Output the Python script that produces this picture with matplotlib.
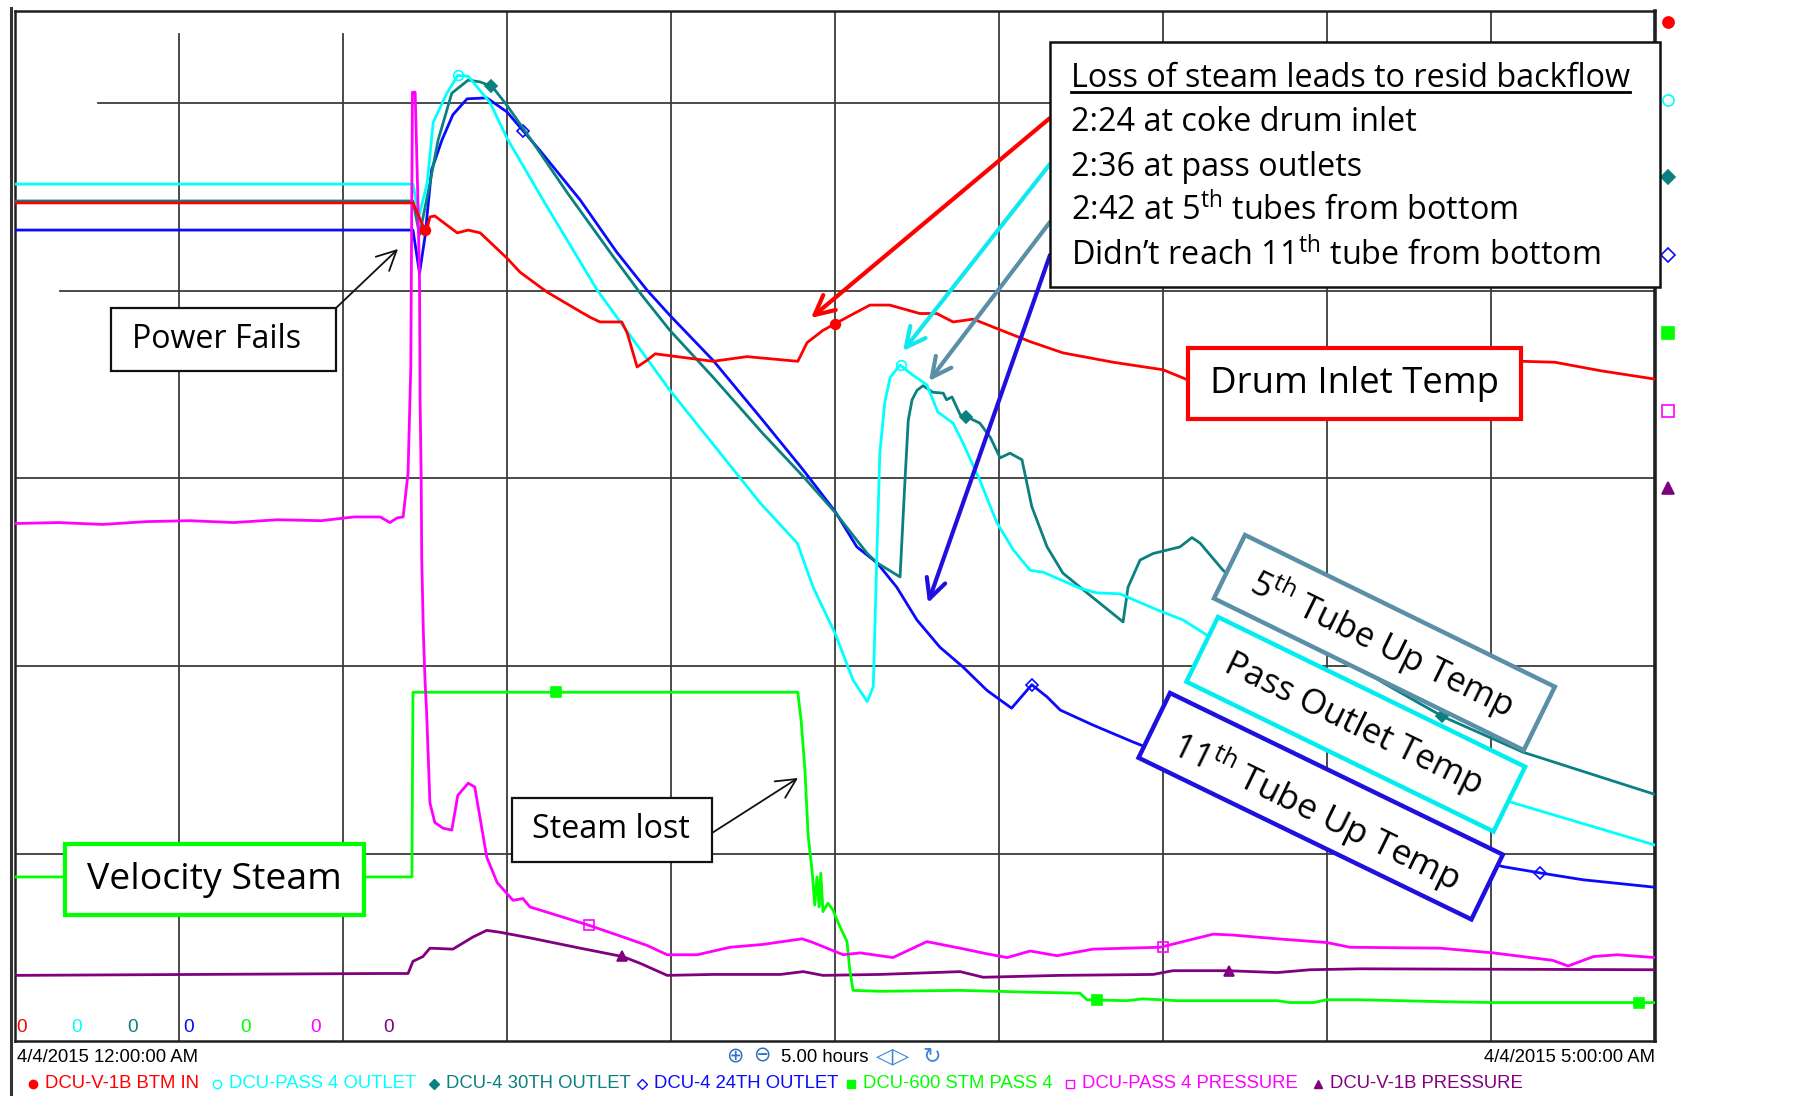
import matplotlib
matplotlib.use('Agg')
import matplotlib.pyplot as plt
import numpy as np
from matplotlib.patches import Rectangle
from matplotlib.transforms import Affine2D
from matplotlib.lines import Line2D

plt.rcParams['font.family'] = ['Open Sans', 'DejaVu Sans']
plt.rcParams['mathtext.fontset'] = 'custom'
plt.rcParams['mathtext.rm'] = 'Open Sans'
plt.rcParams['mathtext.it'] = 'Open Sans:italic'
plt.rcParams['mathtext.bf'] = 'Open Sans:bold'

# time in minutes after 12:00 AM, value in % of each trend's scale
red = [(0, 89.4), (72.8, 89.4), (75.2, 86.2), (75.9, 87.9), (76.8, 88.0), (80.9, 86.2), (82.9, 86.5),
       (85.1, 86.2), (90.0, 83.5), (92.4, 82.0), (97.3, 79.9), (103.4, 77.8), (105.2, 77.2), (107.0, 76.7),
       (111.0, 76.7), (112.0, 75.5), (113.8, 71.9), (115.6, 72.6), (117.1, 73.3), (127.7, 72.5),
       (133.9, 73.0), (143.2, 72.5), (144.9, 74.5), (147.8, 75.8), (150.0, 76.5), (152.2, 77.2),
       (156.4, 78.5), (160.0, 78.5), (165.5, 77.6), (168.6, 77.6), (171.6, 76.7), (175.3, 77.0),
       (179.6, 76.0), (185.7, 74.6), (191.7, 73.4), (200.9, 72.4), (210.0, 71.6), (214.6, 70.5),
       (245.0, 71.0), (270.0, 72.6), (281.7, 72.4), (290.0, 71.5), (300.0, 70.6)]
cyan = [(0, 91.4), (72.8, 91.4), (73.9, 88.0), (75.4, 91.5), (76.5, 98.0), (79.0, 101.1), (81.0, 103.0),
        (82.9, 102.9), (86.9, 100.1), (90.0, 96.3), (96.6, 89.7), (106.5, 80.1), (119.8, 69.4),
        (136.3, 57.4), (143.1, 53.1), (146.0, 48.4), (150.0, 43.5), (153.3, 38.5), (155.9, 36.2),
        (157.0, 37.8), (157.7, 52.7), (158.2, 62.7), (159.1, 68.1), (160.1, 70.8), (161.9, 72.1),
        (164.3, 71.0), (166.8, 70.0), (168.8, 67.1), (171.6, 65.9), (173.4, 63.8), (176.5, 59.8),
        (179.6, 55.3), (182.6, 52.4), (185.7, 50.2), (188.1, 50.0), (194.8, 48.3), (197.9, 47.8),
        (202.1, 47.7), (208.9, 46.0), (213.7, 44.9), (218.0, 43.3), (240.0, 36.0), (260.0, 29.6),
        (273.5, 25.5), (300.0, 20.9)]
teal = [(0, 89.6), (72.8, 89.6), (74.0, 86.0), (75.9, 91.5), (77.4, 96.1), (79.9, 101.1), (82.9, 102.5),
        (85.1, 102.3), (87.3, 101.8), (90.0, 99.8), (94.8, 95.8), (101.0, 90.5), (109.4, 83.7),
        (114.6, 79.6), (119.8, 75.8), (127.7, 70.8), (136.8, 64.8), (144.2, 60.2), (150.0, 56.4),
        (155.9, 52.0), (157.7, 51.0), (161.9, 49.5), (162.8, 59.8), (163.4, 66.2), (164.1, 68.4),
        (165.0, 69.4), (166.1, 69.9), (167.9, 69.2), (169.8, 69.1), (170.4, 68.4), (171.4, 68.7),
        (172.9, 66.8), (174.4, 66.5), (176.5, 65.9), (178.4, 64.4), (180.2, 62.2), (182.0, 62.7),
        (184.2, 62.0), (186.0, 57.0), (188.8, 52.7), (191.7, 49.9), (196.1, 47.8), (202.7, 44.7),
        (203.6, 48.4), (205.8, 51.3), (208.2, 52.0), (213.1, 52.7), (215.3, 53.7), (216.8, 53.1),
        (221.0, 50.2), (235.0, 44.0), (250.3, 38.2), (261.2, 34.6), (275.9, 30.8), (300.0, 26.3)]
blue = [(0, 86.5), (72.8, 86.5), (74.0, 81.9), (75.0, 85.8), (76.2, 92.9), (78.1, 96.1), (80.1, 98.8),
        (82.7, 100.5), (86.3, 100.6), (90.0, 99.1), (96.0, 95.0), (103.4, 89.7), (110.0, 84.2),
        (115.6, 80.1), (119.8, 77.4), (127.7, 72.6), (136.8, 66.2), (144.2, 60.9), (150.0, 56.5),
        (154.0, 52.7), (157.7, 51.0), (161.3, 48.4), (165.0, 44.9), (169.2, 42.0), (173.4, 39.9),
        (177.8, 37.4), (182.3, 35.5), (186.0, 38.0), (188.8, 36.7), (191.2, 35.3), (197.2, 33.7),
        (204.5, 31.9), (230.0, 26.0), (250.0, 22.0), (272.2, 18.6), (279.3, 17.9), (286.8, 17.2),
        (300.0, 16.4)]
green = [(0, 17.5), (72.6, 17.5), (72.8, 37.2), (143.2, 37.2), (143.8, 34.2), (144.5, 28.9), (145.1, 21.8),
         (145.8, 18.2), (146.3, 14.5), (146.7, 17.5), (147.1, 14.3), (147.4, 17.9), (147.8, 13.8),
         (148.7, 14.7), (149.6, 14.0), (150.9, 12.2), (152.2, 10.6), (152.7, 7.6), (153.3, 5.4),
         (158.2, 5.3), (172.9, 5.4), (186.2, 5.2), (194.8, 5.1), (196.1, 4.4), (203.4, 4.3), (206.3, 4.5),
         (212.6, 4.3), (230.9, 4.3), (233.2, 4.1), (237.5, 4.1), (240.0, 4.4), (246.0, 4.4), (260.7, 4.2),
         (270.4, 4.1), (300.0, 4.1)]
magenta = [(0, 55.2), (8, 55.3), (16, 55.1), (24, 55.4), (32, 55.5), (40, 55.3), (48, 55.6), (56, 55.5),
           (62, 55.9), (66.8, 55.9), (68.6, 55.3), (69.9, 55.8), (71.0, 55.9), (71.9, 60.6), (72.4, 71.9),
           (72.7, 101.2), (73.2, 101.2), (73.7, 89.7), (74.0, 80.9), (74.1, 68.4), (74.3, 60.2),
           (74.4, 51.6), (74.7, 43.5), (75.0, 38.5), (75.3, 35.0), (75.9, 25.4), (76.8, 23.3), (78.3, 22.7),
           (79.9, 22.5), (81.0, 26.2), (82.9, 27.5), (84.1, 27.1), (86.3, 19.6), (88.2, 16.9), (91.1, 15.0),
           (92.9, 15.2), (94.2, 14.3), (100.3, 13.2), (105.2, 12.3), (111.2, 11.1), (115.6, 10.2),
           (119.3, 9.2), (124.8, 9.2), (130.8, 10.0), (136.8, 10.3), (144.0, 10.9), (146.0, 10.5),
           (151.5, 9.2), (154.6, 9.4), (160.6, 8.9), (166.8, 10.6), (172.9, 9.9), (177.8, 9.3), (181.5, 8.9),
           (185.7, 9.6), (190.6, 9.1), (197.2, 9.8), (209.5, 10.0), (219.2, 11.4), (222.8, 11.3),
           (230.9, 10.9), (240.0, 10.5), (244.2, 10.0), (260.7, 9.9), (270.4, 9.4), (281.3, 8.6),
           (284.1, 8.0), (288.7, 9.0), (293.1, 9.2), (300.0, 8.9)]
purple = [(0, 7.0), (66.8, 7.2), (71.9, 7.2), (72.8, 8.5), (74.6, 9.0), (75.9, 9.9), (80.1, 9.8), (83.8, 11.1),
          (86.3, 11.8), (88.7, 11.6), (94.2, 11.0), (103.4, 9.9), (111.2, 9.0), (114.3, 8.3), (119.3, 7.0),
          (127.7, 7.1), (140.0, 7.1), (144.2, 7.4), (147.8, 7.0), (158.2, 7.1), (172.9, 7.4), (177.1, 6.8),
          (191.2, 7.0), (208.2, 7.1), (211.8, 7.5), (221.7, 7.5), (230.9, 7.3), (236.9, 7.6), (246.0, 7.7),
          (300.0, 7.6)]

# trend-point markers (minutes)
red_marks = [75, 150, 225]
cyan_marks = [81, 162, 243]
teal_marks = [87, 174, 261]
blue_marks = [93, 186, 279]
green_marks = [99, 198, 297]
magenta_marks = [105, 210]
purple_marks = [111, 222]

tag_names = ['DCU-V-1B BTM IN', 'DCU-PASS 4 OUTLET', 'DCU-4 30TH OUTLET', 'DCU-4 24TH OUTLET',
             'DCU-600 STM PASS 4', 'DCU-PASS 4 PRESSURE', 'DCU-V-1B PRESSURE']
note_lines = ['2:24 at coke drum inlet', '2:36 at pass outlets',
              '2:42 at 5$^{\\mathrm{th}}$ tubes from bottom', 'Didn\u2019t reach 11$^{\\mathrm{th}}$ tube from bottom']

RED, CYAN, TEAL, BLUE = '#ff0000', '#00ffff', '#0b8080', '#0a0aff'
GREEN, MAGENTA, PURPLE = '#00ff00', '#ff00ff', '#800080'
SLATE, BOXBLUE = '#5b8fa8', '#2010e0'

W, H = 1800, 1096
fig = plt.figure(figsize=(18, 10.96), dpi=100)
ax = fig.add_axes([15 / W, 1 - 1041 / H, 1640 / W, 1030 / H])
ax.set_xlim(0, 300)
ax.set_ylim(0, 1030 / 9.375)
ax.set_xticks([])
ax.set_yticks([])
for s in ax.spines.values():
    s.set_linewidth(1.8)
    s.set_color('#202020')
ax.spines['right'].set_linewidth(2.6)

# pixel transform (y down) for the decorations
px = Affine2D().scale(0.01, -0.01).translate(0, 10.96) + fig.dpi_scale_trans
renderer = fig.canvas.get_renderer()


def fit(txt, target):
    # scale the font so the text run is `target` pixels wide
    w = txt.get_window_extent(renderer).width
    txt.set_fontsize(txt.get_fontsize() * target / w)
    return txt


gc = '#3c3c3c'
for t in range(30, 300, 30):
    top = 107.4 if t <= 60 else 110
    ax.plot([t, t], [0, top], color=gc, lw=1.3, zorder=1)
for v in range(20, 101, 20):
    start = {100: 15.2, 80: 8.2}.get(v, 0)
    ax.plot([start, 300], [v, v], color=gc, lw=1.3, zorder=1)

series = [
    (purple, PURPLE, purple_marks, '^', True),
    (green, GREEN, green_marks, 's', True),
    (blue, BLUE, blue_marks, 'D', False),
    (teal, TEAL, teal_marks, 'D', True),
    (cyan, CYAN, cyan_marks, 'o', False),
    (magenta, MAGENTA, magenta_marks, 's', False),
    (red, RED, red_marks, 'o', True),
]
for i, (data, col, marks, mk, filled) in enumerate(series):
    t, v = zip(*data)
    ax.plot(t, v, color=col, lw=2.0, zorder=3 + i)
    mv = np.interp(marks, t, v)
    ax.plot(marks, mv, ls='none', marker=mk, ms=7 if mk != 'D' else 6,
            mfc=col if filled else 'none', mec=col, mew=1.2, zorder=3 + i)


def box(x0, y0, x1, y1, ec, lw):
    fig.add_artist(Rectangle((x0, y0), x1 - x0, y1 - y0, fc='white', ec=ec, lw=lw,
                             transform=px, zorder=20))


def rbox(x, y, w, h, ang, ec, label, cx, cy, tw):
    fig.add_artist(Rectangle((x, y), w, h, angle=ang, fc='white', ec=ec, lw=3.2,
                             transform=px, zorder=20))
    txt = fig.text(cx, cy, label, transform=px, rotation_mode='anchor',
                   ha='center', va='center', fontsize=25, zorder=21)
    fit(txt, tw)
    txt.set_rotation(-ang)


def arrow(x0, y0, x1, y1, col, lw):
    ax.annotate('', xy=(x1, y1), xytext=(x0, y0), xycoords=px, textcoords=px,
                annotation_clip=False, zorder=22,
                arrowprops=dict(arrowstyle='->,head_length=0.7,head_width=0.35', color=col,
                                lw=lw, mutation_scale=20, shrinkA=0, shrinkB=0))


# note box with arrows
box(1050, 42, 1660, 287, '#111111', 1.8)
title = fig.text(1071, 86.7, 'Loss of steam leads to resid backflow', transform=px,
                 fontsize=21, va='baseline', zorder=21)
fit(title, 559)
note_fs = title.get_fontsize()
for k, line in enumerate(note_lines):
    fig.text(1071, 131.4 + 44.7 * k, line, transform=px, fontsize=note_fs, va='baseline', zorder=21)
arrow(1050, 118, 811, 318, RED, 3.0)
arrow(1050, 164, 903, 351, '#10e8f0', 3.0)
arrow(1050, 222, 929, 381, SLATE, 3.0)
arrow(1050, 255, 928, 603, BOXBLUE, 3.0)

box(111, 308, 336, 371, '#111111', 1.6)
fit(fig.text(217, 340, 'Power Fails', transform=px, fontsize=21, ha='center', va='center', zorder=21), 169)
arrow(336, 308, 398, 249, '#111111', 1.3)

box(512, 798, 712, 862, '#111111', 1.6)
fit(fig.text(611, 830, 'Steam lost', transform=px, fontsize=21, ha='center', va='center', zorder=21), 158)
arrow(712, 833, 798, 778, '#111111', 1.3)

box(65, 844, 364, 915, GREEN, 3.0)
fit(fig.text(214, 880, 'Velocity Steam', transform=px, fontsize=25, ha='center', va='center', zorder=21), 255)

box(1188, 348, 1521, 419, RED, 3.0)
fit(fig.text(1354, 384, 'Drum Inlet Temp', transform=px, fontsize=25, ha='center', va='center', zorder=21), 289)

rbox(1245, 535, 345, 70.6, 26.1, SLATE, '5$^{\\mathrm{th}}$ Tube Up Temp', 1382, 644, 289)
rbox(1218, 617, 341.7, 72, 26.0, '#00eef0', 'Pass Outlet Temp', 1354, 725, 283)
rbox(1170, 693, 370, 72, 25.9, BOXBLUE, '11$^{\\mathrm{th}}$ Tube Up Temp', 1316, 812, 316)

# outer left border line
fig.add_artist(Line2D([11, 11], [8, 1096], transform=px, color='#333333', lw=2.2))

# right-side pen markers
pen_cols = [RED, CYAN, TEAL, BLUE, GREEN, MAGENTA, PURPLE]
pen_mk = ['o', 'o', 'D', 'D', 's', 's', '^']
pen_fill = [True, False, True, False, True, False, True]
for k in range(7):
    fig.add_artist(Line2D([1668], [22 + 77.7 * k], transform=px, ls='none', marker=pen_mk[k],
                          ms=8 if pen_mk[k] != 'D' else 7, mfc=pen_cols[k] if pen_fill[k] else 'none',
                          mec=pen_cols[k], mew=1.2))

narrow = ['Liberation Sans Narrow', 'Liberation Sans']
nfs = 13.3
zero_x = [22, 77, 133, 189, 246, 316, 389]
for k in range(7):
    fig.text(zero_x[k], 1027, '0', transform=px, color=pen_cols[k], fontsize=nfs + 0.5, family=narrow,
             ha='center', va='center', zorder=21)

fig.text(17, 1057, '4/4/2015 12:00:00 AM', transform=px, fontsize=nfs, family=narrow, va='center')
fig.text(1655, 1057, '4/4/2015 5:00:00 AM', transform=px, fontsize=nfs, family=narrow, va='center',
         ha='right')
fig.text(781, 1057, '5.00 hours', transform=px, fontsize=nfs, family=narrow, va='center')
fig.text(735, 1055, '\u2295', transform=px, fontsize=15, family='DejaVu Sans', color='#2f6fbf',
         ha='center', va='center')
fig.text(762, 1055, '\u2296', transform=px, fontsize=15, family='DejaVu Sans', color='#2f6fbf',
         ha='center', va='center')
fig.text(893, 1056, '\u25c1\u25b7', transform=px, fontsize=16, family='DejaVu Sans', color='#3b86d6',
         ha='center', va='center')
fig.text(932, 1056, '\u21bb', transform=px, fontsize=16, family='DejaVu Sans', color='#3b86d6',
         ha='center', va='center')

leg_x = [33, 217, 434, 642, 851, 1070, 1318]
for k in range(7):
    fig.add_artist(Line2D([leg_x[k]], [1084], transform=px, ls='none', marker=pen_mk[k],
                          ms=6 if pen_mk[k] != 'D' else 5, mfc=pen_cols[k] if pen_fill[k] else 'none',
                          mec=pen_cols[k], mew=1.0))
    fig.text(leg_x[k] + 12, 1084, tag_names[k], transform=px, fontsize=nfs, family=narrow,
             color=pen_cols[k], va='center')

# underline the note title
fig.canvas.draw()
bb = title.get_window_extent()
fig.add_artist(Line2D([bb.x0, bb.x1], [92, 92], transform=px, color='black', lw=2.0, zorder=21))

fig.savefig('out.png', dpi=100)
